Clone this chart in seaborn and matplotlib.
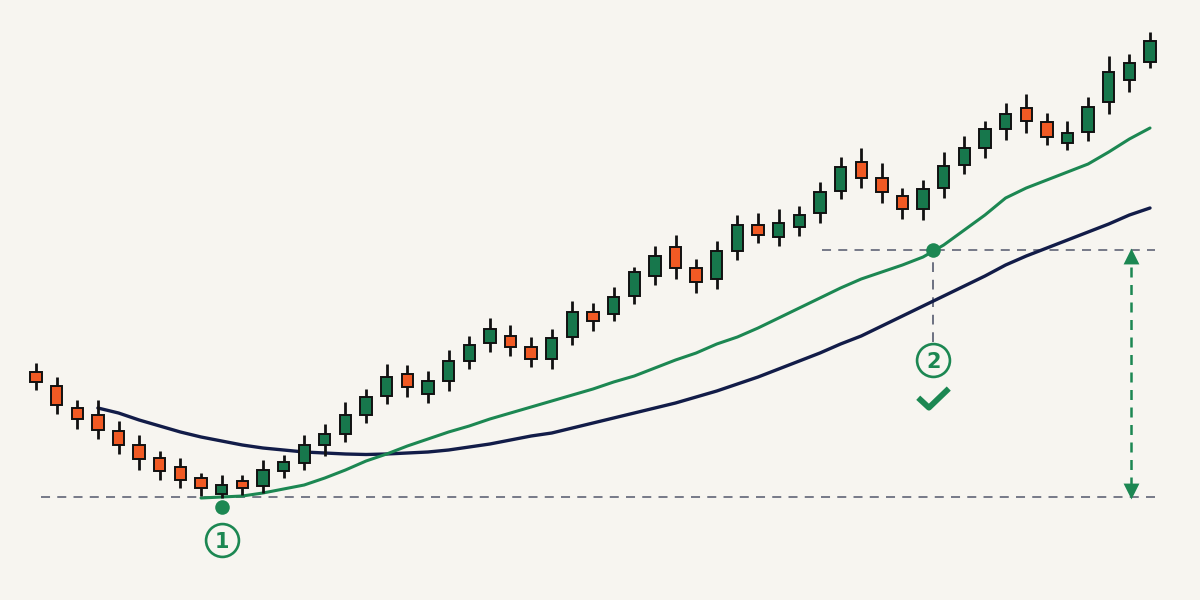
import numpy as np
import pandas as pd
import matplotlib
matplotlib.use("Agg")
import matplotlib.pyplot as plt
from matplotlib.path import Path
import seaborn as sns

# ---- data (price levels) ----
opens  = [228, 214, 192, 185, 169, 155, 142, 133, 122, 106, 119, 114, 129, 137, 155, 166, 185, 204, 226, 206,
          219, 239, 257, 264, 253, 241, 263, 288, 286, 304, 324, 353, 332, 321, 349, 375, 363, 373, 387, 409,
          438, 422, 404, 391, 412, 435, 452, 471, 492, 478, 457, 468, 498, 520, 538]
highs  = [237, 223, 200, 200, 179, 165, 149, 142, 127, 125, 125, 140, 145, 165, 176, 198, 211, 236, 235, 229,
          250, 264, 282, 275, 263, 271, 299, 297, 313, 333, 354, 365, 341, 359, 385, 387, 391, 394, 418, 443,
          452, 437, 412, 420, 448, 464, 479, 497, 506, 487, 479, 503, 544, 546, 568]
lows   = [210, 186, 171, 161, 146, 130, 120, 112, 104, 102, 105, 107, 122, 130, 144, 158, 177, 196, 203, 197,
          209, 231, 248, 244, 233, 231, 255, 269, 279, 296, 315, 321, 307, 311, 340, 357, 354, 364, 377, 401,
          412, 397, 381, 380, 402, 426, 442, 460, 467, 455, 450, 459, 486, 508, 532]
closes = [218, 195, 181, 170, 155, 141, 129, 120, 112, 115, 112, 130, 138, 155, 166, 185, 203, 223, 213, 219,
          239, 255, 271, 253, 241, 262, 288, 279, 303, 328, 344, 332, 318, 349, 375, 365, 377, 385, 408, 433,
          422, 408, 391, 411, 434, 452, 471, 486, 479, 463, 467, 493, 528, 537, 559]

slow_ma_start = 3
slow_ma = [192, 187, 180, 174, 168, 163, 159, 155, 152, 150, 148, 147, 146, 145.5, 146, 147, 148, 150, 153,
           156, 160, 164, 167, 172, 177, 182, 187, 192, 197, 203, 209, 216, 223, 231, 239, 247, 256, 264, 274,
           284, 294, 304, 314, 324, 335, 344, 352, 360, 368, 376, 385, 392]
fast_ma_start = 8
fast_ma = [102, 103, 104, 107, 111, 115, 122, 130, 139, 146, 154, 161, 168, 174, 181, 187, 193, 199, 205, 211,
           218, 224, 232, 240, 247, 256, 263, 272, 282, 292, 302, 312, 321, 328, 335, 343, 355, 370, 385, 402,
           412, 420, 428, 436, 448, 461, 472]

baseline_level = 103     # horizontal reference (lowest point)
target_level = 350       # horizontal reference (crossover level)
entry_idx, entry_level = 9, 93
signal_idx = 43.5

# ---- style ----
BG = "#f7f5f0"
GREEN = "#17774c"
RED = "#f15a24"
LINE_GREEN = "#1c8752"
NAVY = "#121c48"
DASH = "#6c7080"

sns.set_theme(style="white")
plt.rcParams["font.family"] = ["DejaVu Sans"]

fig = plt.figure(figsize=(12, 6), dpi=100, facecolor=BG)
ax = fig.add_axes([0, 0, 1, 1])
ax.set_facecolor(BG)

n = len(opens)
idx = np.arange(n)
df = pd.DataFrame({"i": idx, "o": opens, "h": highs, "l": lows, "c": closes})
df["up"] = df["c"] >= df["o"]

# moving averages via seaborn
slow_df = pd.DataFrame({"i": np.arange(slow_ma_start, slow_ma_start + len(slow_ma)), "v": slow_ma})
fast_df = pd.DataFrame({"i": np.arange(fast_ma_start, fast_ma_start + len(fast_ma)), "v": fast_ma})

# reference dashed lines
ax.axhline(baseline_level, xmin=41 / 1200, xmax=1155 / 1200, color=DASH, lw=1.3, ls=(0, (5, 4)), zorder=1)
ax.axhline(target_level, xmin=822 / 1200, xmax=1155 / 1200, color=DASH, lw=1.3, ls=(0, (5, 4)), zorder=1)
ax.vlines(signal_idx, 258, target_level, color=DASH, lw=1.4, ls=(0, (5, 4)), zorder=1)

sns.lineplot(data=slow_df, x="i", y="v", color=NAVY, lw=2.4, ax=ax, zorder=2)
sns.lineplot(data=fast_df, x="i", y="v", color=LINE_GREEN, lw=2.2, ax=ax, zorder=2)

# candles
width = 0.55
for _, r in df.iterrows():
    col = GREEN if r["up"] else RED
    ax.vlines(r["i"], r["l"], r["h"], color="#111111", lw=2.0, zorder=3)
    lo, hi = min(r["o"], r["c"]), max(r["o"], r["c"])
    ax.bar(r["i"], hi - lo, bottom=lo, width=width, color=col, edgecolor="#111111",
           linewidth=1.4, zorder=4)

# markers & annotations
ax.scatter([entry_idx], [entry_level], s=110, color=LINE_GREEN, zorder=5, linewidths=0)
ax.scatter([signal_idx], [target_level], s=110, color=LINE_GREEN, zorder=5, linewidths=0)

for (xi, yi, lab) in [(entry_idx, 60, "1"), (signal_idx, 240, "2")]:
    ax.scatter([xi], [yi], s=560, facecolor=BG, edgecolor=LINE_GREEN, linewidth=1.9, zorder=5)
    ax.text(xi, yi, lab, color=LINE_GREEN, fontsize=15, fontweight="bold",
            ha="center", va="center_baseline", zorder=6)

check = Path([(-1.0, 0.05), (-0.3, -0.6), (1.0, 0.65)], [Path.MOVETO, Path.LINETO, Path.LINETO])
ax.plot([signal_idx], [202], marker=check, ms=22, mfc="none", mec=LINE_GREEN, mew=4.2,
        ls="none", zorder=6, solid_joinstyle="miter")

# measurement arrow
arrow_x = 53.1
ax.vlines(arrow_x, baseline_level + 10, target_level - 10, color=LINE_GREEN, lw=1.8,
          ls=(0, (4, 3)), zorder=3)
ax.scatter([arrow_x], [target_level - 6], marker="^", s=130, color=LINE_GREEN, zorder=4, linewidths=0)
ax.scatter([arrow_x], [baseline_level + 6], marker="v", s=130, color=LINE_GREEN, zorder=4, linewidths=0)

ax.set_xlim(-36 / 20.63, (1200 - 36) / 20.63)
ax.set_ylim(0, 600)
ax.set_xlabel("")
ax.set_ylabel("")
ax.axis("off")
if ax.get_legend():
    ax.get_legend().remove()

fig.savefig("out.png", dpi=100, facecolor=BG)
